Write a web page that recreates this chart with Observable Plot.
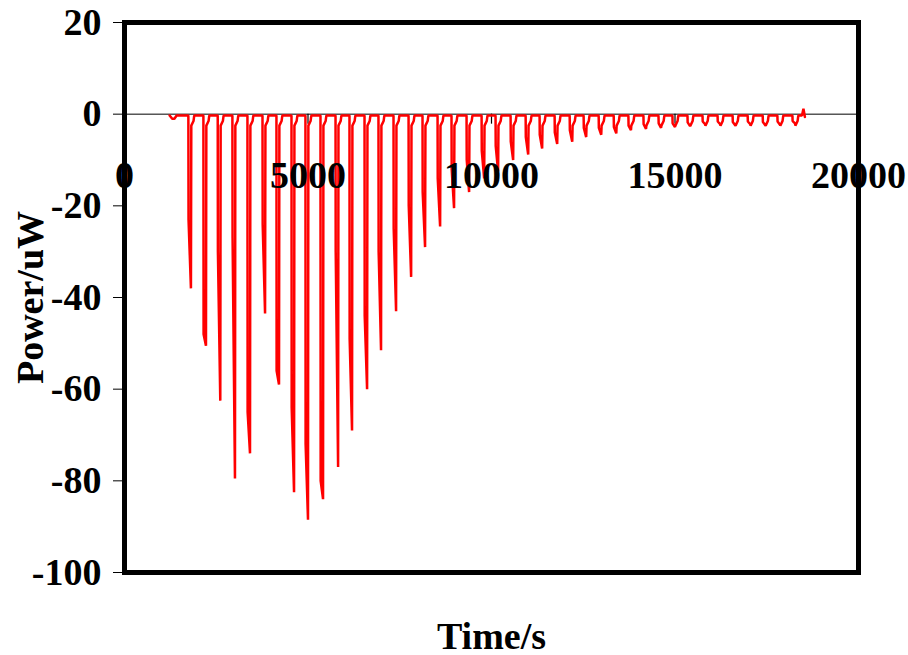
<!DOCTYPE html>
<html><head><meta charset="utf-8">
<script src="https://cdn.jsdelivr.net/npm/d3@7"></script>
<script src="https://cdn.jsdelivr.net/npm/@observablehq/plot@0.6"></script>
<style>
html,body{margin:0;padding:0;background:#fff;}
#chart{width:908px;height:655px;}
</style></head><body><div id="chart"></div>
<script>
// Axis tick labels
const xTicks = [0, 5000, 10000, 15000, 20000];
const yTicks = [20, 0, -20, -40, -60, -80, -100];
const xTitle = "Time/s";
const yTitle = "Power/uW";

// Lead-in and tail of the trace (time s, power uW)
const headTime = [1230, 1300, 1360, 1420];
const headPower = [-0.3, -1.0, -1.0, -0.3];
const tailTime = [18460, 18500, 18540];
const tailPower = [-0.3, 1.2, -0.6];

// Discharge pulses: start time, intermediate value on the fall, minimum
const spikeTime = [1740, 2150, 2540, 2940, 3350, 3760, 4140, 4550, 4930, 5340,
  5750, 6130, 6540, 6920, 7330, 7740, 8120, 8530, 8910, 9320,
  9730, 10110, 10520, 10930, 11310, 11720, 12130, 12510, 12920, 13330,
  13730, 14140, 14550, 14930, 15340, 15750, 16160, 16570, 16980, 17390,
  17790, 18200];
const spikeMin = [-38, -50.5, -62.5, -79.5, -74, -43.5, -59, -82.5, -88.5, -84,
  -77, -69, -60, -51.5, -43, -35.5, -29, -24.5, -20.5, -17,
  -14, -12.5, -10, -8.8, -7.5, -6.5, -6, -5, -4.5, -4.2,
  -3.5, -3.2, -3, -2.8, -2.6, -2.2, -2.2, -2.4, -2.2, -2.4,
  -2.3, -2.0];
const spikeMid = [-23, -48, -30, -27, -65, -24, -56, -64, -72, -80,
  -30, -49, -44, -30, -25, -20, -17, -14, -12, -10,
  -8, -7, -6, -5, -4.5, -4, -3.5, -3, -3, -2.8,
  -2.5, -2.2, -2, -2, -1.8, -1.6, -1.6, -1.7, -1.6, -1.7,
  -1.6, -1.5];
// time offsets (s) of the points that make one pulse, and the recovery levels
const pulseOffset = [0, 5, 70, 80, 140, 160];
const recoveryPower = [-2.5, -1.5, -0.3];

const series = [];
headTime.forEach((t, i) => series.push({t, p: headPower[i]}));
spikeTime.forEach((t, i) => {
  const vals = [-0.3, spikeMid[i], spikeMin[i], ...recoveryPower];
  pulseOffset.forEach((o, j) => series.push({t: t + o, p: vals[j]}));
});
tailTime.forEach((t, i) => series.push({t, p: tailPower[i]}));

const font = "'Liberation Serif', 'Times New Roman', serif";

const chart = Plot.plot({
  width: 908,
  height: 655,
  marginLeft: 124,
  marginRight: 50,
  marginTop: 22,
  marginBottom: 83,
  x: {domain: [0, 20000], axis: null},
  y: {domain: [-100, 20]},
  style: {fontFamily: font, fontWeight: "bold", background: "#fff", color: "#000"},
  marks: [
    Plot.ruleY([0], {stroke: "#000", strokeWidth: 1}),
    Plot.ruleX(xTicks, {x: d => d, y1: d => 0, y2: d => 0, insetBottom: -10, stroke: "#000", strokeWidth: 1.2}),
    Plot.line(series, {x: "t", y: "p", stroke: "#ff0000", strokeWidth: 2.5, strokeLinejoin: "miter"}),
    Plot.frame({stroke: "#000", strokeWidth: 5}),
    Plot.axisY(yTicks, {tickSize: 11, tickPadding: 12, tickFormat: d => String(d), fontSize: 38, fontWeight: "bold", fontFamily: font, stroke: "#000", label: null}),
    Plot.text(xTicks, {x: d => d, y: d => 0, text: d => String(d), dy: 62, fontSize: 38, fontWeight: "bold", fontFamily: font, fill: "#000"}),
    Plot.text([yTitle], {frameAnchor: "left", rotate: -90, textAnchor: "middle", dx: -94, fontSize: 38, fontWeight: "bold", fontFamily: font, fill: "#000"}),
    Plot.text([xTitle], {frameAnchor: "bottom", dy: 76, fontSize: 38, fontWeight: "bold", fontFamily: font, fill: "#000"})
  ]
});
document.getElementById("chart").appendChild(chart);
</script>
</body></html>
